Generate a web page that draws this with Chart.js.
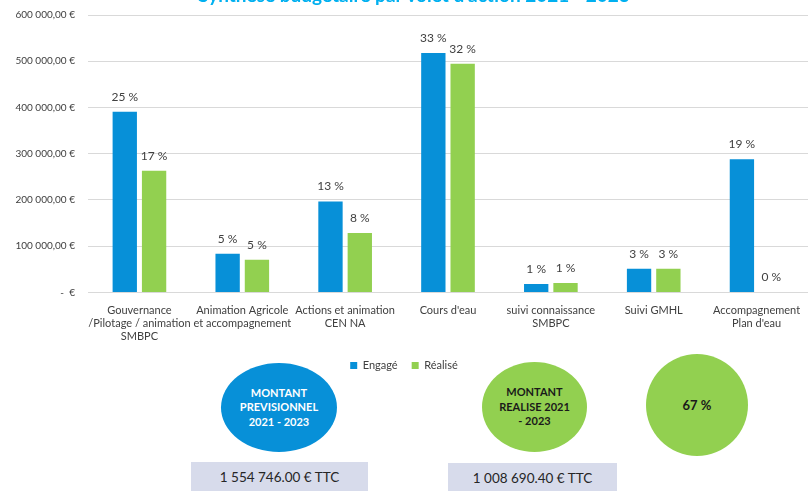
<!DOCTYPE html>
<html lang="fr">
<head>
<meta charset="utf-8">
<script src="https://cdn.jsdelivr.net/npm/chart.js@4.4.1/dist/chart.umd.min.js"></script>
<style>
    body { margin: 0; width: 811px; height: 491px; overflow: hidden; background: #fff; font-family: Lato, sans-serif; position: relative; }
    #titre { position: absolute; left: 0; width: 828px; top: -15px; line-height: 20px; text-align: center; font-size: 19px; font-weight: bold; color: #00b0f0; z-index: 2; }
    #zone-graph { position: absolute; left: 0; top: -4px; width: 811px; height: 385px; }
    .ovale { position: absolute; border-radius: 50%; display: flex; align-items: center; justify-content: center; text-align: center; font-weight: bold; font-size: 11px; line-height: 14.5px; }
    .montant { position: absolute; background: #d7dbeb; text-align: center; font-size: 13.5px; color: #262626; line-height: 30px; }
</style>
</head>
<body>
<div id="titre">Synthèse budgétaire par volet d'action 2021 - 2023</div>
<div id="zone-graph"><canvas id="budget-chart"></canvas></div>

<div class="ovale" style="left:221px; top:363px; width:116px; height:89px; background:#0790d8; color:#fff;">MONTANT<br>PREVISIONNEL<br>2021 - 2023</div>
<div class="ovale" style="left:482px; top:362px; width:105px; height:90px; background:#92d050; color:#1a1a1a;">MONTANT<br>REALISE 2021<br>- 2023</div>
<div class="ovale" style="left:646px; top:354px; width:102px; height:102px; background:#92d050; color:#1a1a1a; font-size:13px;">67 %</div>

<div class="montant" style="left:191px; top:462px; width:177px; height:29px;">1 554 746.00 € TTC</div>
<div class="montant" style="left:448px; top:463px; width:169px; height:28px;">1 008 690.40 € TTC</div>

<script>
// Volets d'action
const volets = [
    ['Gouvernance', '/Pilotage / animation', 'SMBPC'],
    ['Animation Agricole', 'et accompagnement'],
    ['Actions et animation', 'CEN NA'],
    ["Cours d'eau"],
    ['suivi connaissance', 'SMBPC'],
    ['Suivi GMHL'],
    ['Accompagnement', "Plan d'eau"]
];

// Montants (€)
const engage = [390500, 83600, 196400, 517700, 18100, 50900, 288000];
const realise = [263300, 70500, 128700, 494600, 20300, 51000, 0];

// Étiquettes en pourcentage
const engagePct = ['25 %', '5 %', '13 %', '33 %', '1 %', '3 %', '19 %'];
const realisePct = ['17 %', '5 %', '8 %', '32 %', '1 %', '3 %', '0 %'];

// Graduations de l'axe
const graduations = [0, 100000, 200000, 300000, 400000, 500000, 600000];

const BLEU = '#0790d8';
const VERT = '#92d050';

function formatEuro(v) {
    if (v === 0) return '-  €';
    const s = Math.round(v).toString().replace(/\B(?=(\d{3})+(?!\d))/g, ' ');
    return s + ',00 €';
}

// Plugin simple pour afficher les pourcentages au-dessus des barres
const etiquettesPlugin = {
    id: 'etiquettes',
    afterDatasetsDraw(chart) {
        const ctx = chart.ctx;
        const textes = [engagePct, realisePct];
        ctx.save();
        ctx.font = '12px Lato, sans-serif';
        ctx.fillStyle = '#404040';
        ctx.textAlign = 'center';
        ctx.textBaseline = 'middle';
        chart.data.datasets.forEach((ds, i) => {
            const meta = chart.getDatasetMeta(i);
            meta.data.forEach((bar, j) => {
                ctx.fillText(textes[i][j], bar.x, bar.y - 15);
            });
        });
        ctx.restore();
    }
};

const ctx = document.getElementById('budget-chart').getContext('2d');
const budgetChart = new Chart(ctx, {
    type: 'bar',
    data: {
        labels: volets,
        datasets: [
            {
                label: 'Engagé',
                data: engage,
                backgroundColor: BLEU,
                categoryPercentage: 0.57,
                barPercentage: 0.83
            },
            {
                label: 'Réalisé',
                data: realise,
                backgroundColor: VERT,
                categoryPercentage: 0.57,
                barPercentage: 0.83
            }
        ]
    },
    options: {
        responsive: true,
        maintainAspectRatio: false,
        animation: false,
        layout: {
            padding: { top: 5, right: 3, left: 0, bottom: 0 }
        },
        plugins: {
            legend: {
                position: 'bottom',
                labels: {
                    boxWidth: 7,
                    boxHeight: 7,
                    padding: 14,
                    color: '#404040',
                    font: { family: 'Lato', size: 11 }
                }
            },
            tooltip: { enabled: false }
        },
        scales: {
            x: {
                grid: { display: false },
                border: { display: false },
                ticks: {
                    color: '#404040',
                    font: { family: 'Lato', size: 11 },
                    maxRotation: 0,
                    autoSkip: false,
                    padding: 3
                }
            },
            y: {
                min: 0,
                max: 600000,
                afterFit: function(scale) { scale.width = 88; },
                afterBuildTicks: function(scale) {
                    scale.ticks = graduations.map(v => ({ value: v }));
                },
                grid: { color: '#d9d9d9', drawTicks: false },
                border: { display: false },
                ticks: {
                    color: '#404040',
                    font: { family: 'Lato', size: 10 },
                    padding: 13,
                    callback: function(v) { return formatEuro(v); }
                }
            }
        }
    },
    plugins: [etiquettesPlugin]
});
</script>
</body>
</html>
